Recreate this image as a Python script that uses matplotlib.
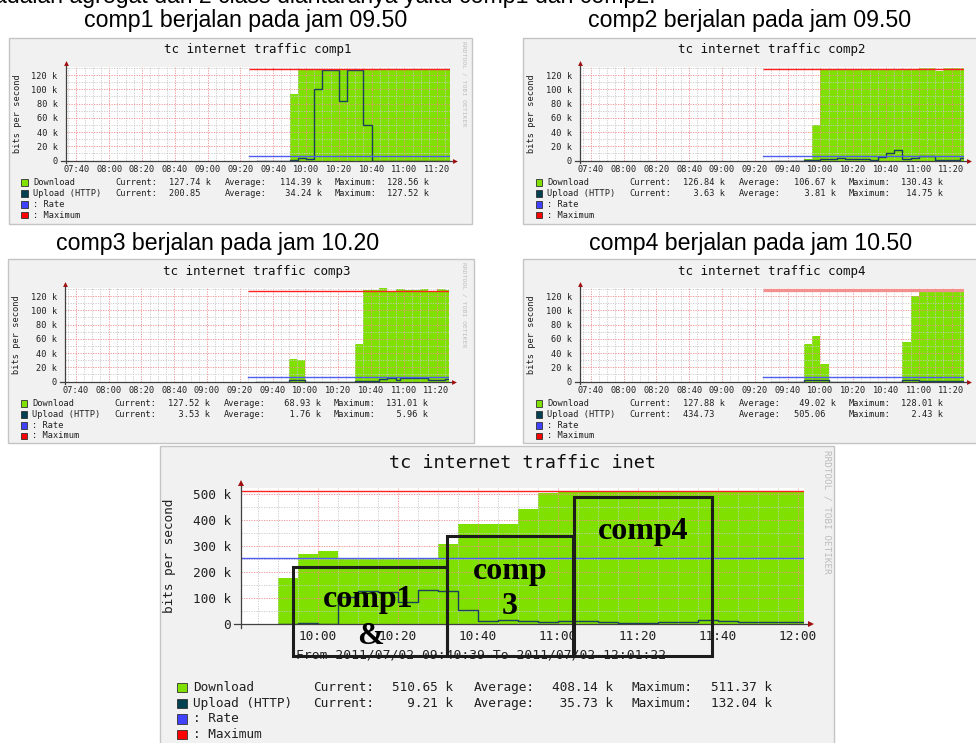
import matplotlib
matplotlib.use("Agg")
import matplotlib.pyplot as plt
from matplotlib.patches import Rectangle

plt.rcParams["font.family"] = ["DejaVu Sans Mono"]

W, H = 976, 743

# ---- tick labels / legend text ----
small_xticks = ["07:40", "08:00", "08:20", "08:40", "09:00", "09:20", "09:40",
                "10:00", "10:20", "10:40", "11:00", "11:20"]
small_yticks = [0, 20, 40, 60, 80, 100, 120]
inet_xticks = ["10:00", "10:20", "10:40", "11:00", "11:20", "11:40", "12:00"]
inet_yticks = [0, 100, 200, 300, 400, 500]

legend_names = ["Download", "Upload (HTTP)", ": Rate", ": Maximum"]
stat_names = ["Current:", "Average:", "Maximum:"]

captions = ["comp1 berjalan pada jam 09.50", "comp2 berjalan pada jam 09.50",
            "comp3 berjalan pada jam 10.20", "comp4 berjalan pada jam 10.50"]

# ---- data: step edges (HH:MM) and values per step (k bit/s) ----
c1_dl_t = ["09:50", "09:55", "10:00", "10:05", "10:10", "10:15", "10:20", "10:25",
           "10:30", "10:35", "10:40", "10:45", "10:50", "10:55", "11:00", "11:05",
           "11:10", "11:15", "11:20", "11:25", "11:27.5"]
c1_dl_v = [93, 128.6, 127.7, 127.7, 128.6, 127.7, 128.6, 127.7, 127.7, 128.6,
           127.7, 128.6, 127.7, 127.7, 127.7, 127.7, 128.6, 127.7, 128.6, 127.7]
c1_up_t = ["09:30", "09:50", "09:55", "10:00", "10:05", "10:10", "10:20", "10:25",
           "10:30", "10:35", "10:40", "11:27.5"]
c1_up_v = [0, 1, 3, 2, 101, 127.5, 83, 127.5, 127.5, 50, 0]
c1_stats = [["127.74 k", "114.39 k", "128.56 k"], ["200.85", "34.24 k", "127.52 k"]]

c2_dl_t = ["09:50", "09:55", "10:00", "10:10", "10:40", "10:45", "10:55", "11:00",
           "11:10", "11:15", "11:27.5"]
c2_dl_v = [2.5, 50, 126.5, 128.5, 127, 128.5, 127, 130.4, 125.5, 129.5]
c2_up_t = ["09:30", "09:50", "10:00", "10:10", "10:15", "10:20", "10:30", "10:35",
           "10:40", "10:45", "10:50", "10:55", "11:00", "11:10", "11:25", "11:27.5"]
c2_up_v = [0, 0.5, 2.8, 4.2, 2.4, 2.8, 1.0, 5.2, 10.0, 14.7, 2.8, 4.2, 6.0, 1.4, 3.3]
c2_stats = [["126.84 k", "106.67 k", "130.43 k"], ["3.63 k", "3.81 k", "14.75 k"]]

c3_dl_t = ["09:50", "09:55", "10:00", "10:30", "10:35", "10:45", "10:50", "10:55",
           "11:00", "11:10", "11:15", "11:20", "11:25", "11:27.5"]
c3_dl_v = [31.5, 29.5, 0, 53, 128, 131, 126, 130, 128, 130, 125, 129.5, 128]
c3_up_t = ["09:30", "09:50", "10:00", "10:30", "10:45", "10:50", "10:55", "10:58",
           "11:15", "11:25", "11:27.5"]
c3_up_v = [0, 2, 0, 0.5, 3, 5, 2, 5, 2, 3.5]
c3_stats = [["127.52 k", "68.93 k", "131.01 k"], ["3.53 k", "1.76 k", "5.96 k"]]

c4_dl_t = ["09:50", "09:55", "10:00", "10:05", "10:50", "10:55", "11:00", "11:27.5"]
c4_dl_v = [52, 64, 25, 0, 55, 120, 128]
c4_up_t = ["09:30", "09:50", "10:05", "10:50", "11:00", "11:27.5"]
c4_up_v = [0, 1.8, 0, 1.8, 0.3]
c4_stats = [["127.88 k", "49.02 k", "128.01 k"], ["434.73", "505.06", "2.43 k"]]

small_rate = [7, 7, 7, 7]
small_max = [127.8, 128.5, 127.6, 128.5]
small_ref_t = ["09:25", "11:27.5"]

inet_dl_t = ["09:50", "09:55", "10:00", "10:05", "10:30", "10:35", "10:50", "10:55",
             "11:00", "12:01.4"]
inet_dl_v = [179, 270, 281, 255, 308, 385, 441, 503, 510.5]
inet_up_t = ["09:50", "09:55", "10:00", "10:05", "10:10", "10:15", "10:20", "10:25",
             "10:30", "10:35", "10:40", "10:45", "10:50", "10:55", "11:00", "11:10",
             "11:15", "11:25", "11:35", "11:40", "11:45", "11:55", "12:01.4"]
inet_up_v = [2.6, 5, 2.6, 105, 129, 125, 87, 132, 128, 55, 12, 18, 14, 10, 13, 10,
             4, 8, 18, 13, 9, 10]
inet_stats = [["510.65 k", "408.14 k", "511.37 k"], ["9.21 k", "35.73 k", "132.04 k"]]
inet_rate = 256
inet_max = 511
inet_ref_t = ["09:40.65", "12:01.4"]

# hand-drawn annotation boxes on the inet graph
box_x0 = ["09:53.8", "10:32.25", "11:04"]
box_x1 = ["10:32.25", "11:03.75", "11:38.6"]
box_top = [220, 338, 487]
box_bottom = -122
box_texts = ["comp1", "&", "comp", "3", "comp4"]
box_text_t = ["10:12.5", "10:13", "10:48", "10:48", "11:21.25"]
box_text_y = [97, -45, 204, 70, 358]

# ---- colours ----
GREEN = "#80e000"
UP_LINE = "#1b4060"
RATE_BLUE = "#4f5cf0"
MAX_RED = "#ff2020"
AXIS_C = "#404040"
ARROW_C = "#a01010"
GRID_MINOR = "#c8c8c8"
GRID_MAJOR = "#f08a8a"
PANEL_BG = "#f1f1f1"
PANEL_EDGE = "#c4c4c4"
LEG_COLORS = [GREEN, "#004050", "#4040ff", "#ff0000"]

fig = plt.figure(figsize=(W / 100, H / 100), dpi=100)
fig.patch.set_facecolor("white")


def tm(s):
    h, m = s.split(":")
    return int(h) * 60 + float(m)


def fig_rect(x0, y0, x1, y1):
    return [x0 / W, 1 - y1 / H, (x1 - x0) / W, (y1 - y0) / H]


def ftext(x, y, s, **kw):
    return fig.text(x / W, 1 - y / H, s, **kw)


def fig_box(x0, y0, x1, y1, fc, ec, lw=1.0, zorder=-1):
    fig.patches.append(Rectangle((x0 / W, 1 - y1 / H), (x1 - x0) / W, (y1 - y0) / H,
                                 transform=fig.transFigure, facecolor=fc,
                                 edgecolor=ec, lw=lw, zorder=zorder))


SMALL = dict(plot=(56.5, 28.5, 440.5, 122.5), title_y=12, fs_title=9, fs=6.2,
             ylab_x=8.7, wm_x=455.5, wm_y=46, wm_fs=4.6, xpad=3.2, ypad=5.6,
             rows=(144.5, 155.5, 166.5, 177), cols=(15.5, 24, 106, 160, 216, 270.5, 325.5, 378),
             sq=6.5, arrow=3.5)
INET = dict(plot=(80.7, 42, 643.5, 178.3), title_y=17.3, fs_title=13.3, fs=9.2,
            ylab_x=10, wm_x=666.7, wm_y=65.5, wm_fs=6.7, xpad=3.8, ypad=7.0,
            rows=(241.7, 257.3, 273, 288.3), cols=(22, 33, 153, 232, 314, 392.3, 472, 551.3),
            sq=9.5, arrow=5)


def draw_rrd(box, lay, title, xlim, ylim, xlabels, yvals, minor_x, minor_y,
             dl_t, dl_v, up_t, up_v, ref_t, rate, vmax, stats,
             max_color=MAX_RED, max_lw=1.0, watermark=True):
    x0, y0, x1, y1 = box
    fig_box(x0, y0, x1, y1, PANEL_BG, PANEL_EDGE)
    pl, pt, pr, pb = lay["plot"]
    ax = fig.add_axes(fig_rect(x0 + pl, y0 + pt, x0 + pr, y0 + pb))
    ax.set_facecolor("white")
    ax.set_xlim(tm(xlim[0]), tm(xlim[1]))
    ax.set_ylim(*ylim)
    for sp in ax.spines.values():
        sp.set_visible(False)

    ax.set_xticks([tm(s) for s in xlabels], xlabels)
    ax.set_yticks(yvals, ["0" if v == 0 else f"{v} k" for v in yvals])
    ax.set_xticks(minor_x, minor=True)
    ax.set_yticks(minor_y, minor=True)
    ax.tick_params(which="both", length=0, labelsize=lay["fs"], colors="#202020")
    ax.tick_params(axis="x", pad=lay["xpad"])
    ax.tick_params(axis="y", pad=lay["ypad"])
    ax.grid(which="minor", color=GRID_MINOR, ls=(0, (1.5, 1.5)), lw=0.6)
    ax.grid(which="major", color=GRID_MAJOR, ls=(0, (1.5, 1.5)), lw=0.6)

    dt = [tm(s) for s in dl_t]
    ax.fill_between(dt, dl_v + dl_v[-1:], step="post", color=GREEN, lw=0, zorder=1)
    ut = [tm(s) for s in up_t]
    ax.step(ut, up_v + up_v[-1:], where="post", color=UP_LINE, lw=1, zorder=3)
    rt = [tm(s) for s in ref_t]
    ax.plot(rt, [rate, rate], color=RATE_BLUE, lw=1, zorder=3)
    ax.plot(rt, [vmax, vmax], color=max_color, lw=max_lw, zorder=3, solid_capstyle="butt")

    # axes with arrow heads like rrdtool
    ax.plot([-0.012, 1.012], [0, 0], transform=ax.transAxes, color=AXIS_C, lw=0.9,
            clip_on=False, zorder=4)
    ax.plot([0, 0], [-0.03, 1.03], transform=ax.transAxes, color=AXIS_C, lw=0.9,
            clip_on=False, zorder=4)
    ax.plot([1.014], [0], marker=">", ms=lay["arrow"], color=ARROW_C, mew=0,
            transform=ax.transAxes, clip_on=False, zorder=5)
    ax.plot([0], [1.035], marker="^", ms=lay["arrow"], color=ARROW_C, mew=0,
            transform=ax.transAxes, clip_on=False, zorder=5)

    ftext(x0 + (pl + pr) / 2, y0 + lay["title_y"], title, ha="center", va="center",
          fontsize=lay["fs_title"], color="#101010")
    ftext(x0 + lay["ylab_x"], y0 + (pt + pb) / 2, "bits per second", rotation=90,
          ha="center", va="center", fontsize=lay["fs"], color="#202020")
    if watermark:
        ftext(x0 + lay["wm_x"], y0 + lay["wm_y"], "RRDTOOL / TOBI OETIKER", rotation=-90,
              ha="center", va="center", fontsize=lay["wm_fs"], color="#bdbdbd")

    # legend block
    c = lay["cols"]
    s = lay["sq"]
    for i, name in enumerate(legend_names):
        y = y0 + lay["rows"][i]
        fig_box(x0 + c[0] - s / 2, y - s / 2, x0 + c[0] + s / 2, y + s / 2,
                LEG_COLORS[i], "#303030", lw=0.6, zorder=2)
        ftext(x0 + c[1], y, name, ha="left", va="center", fontsize=lay["fs"], color="#202020")
        if i < 2:
            for j in range(3):
                num, _, unit = stats[i][j].partition(" ")
                field = num.rjust(6) + " " + unit
                ftext(x0 + c[2 + 2 * j], y, stat_names[j], ha="left", va="center",
                      fontsize=lay["fs"], color="#202020")
                ftext(x0 + c[3 + 2 * j], y, field, ha="left", va="center",
                      fontsize=lay["fs"], color="#202020")
    return ax


small_minor_x = list(range(int(tm("07:35")), int(tm("11:30")), 5))
small_minor_y = list(range(0, 131, 10))
small_xlim = ("07:33.3", "11:27.5")
small_ylim = (0, 132)

panels = [
    ((9, 38, 472, 223.5), "tc internet traffic comp1", c1_dl_t, c1_dl_v, c1_up_t, c1_up_v, c1_stats, True),
    ((523.3, 38, 990, 223.5), "tc internet traffic comp2", c2_dl_t, c2_dl_v, c2_up_t, c2_up_v, c2_stats, False),
    ((8.3, 259, 474.3, 443.3), "tc internet traffic comp3", c3_dl_t, c3_dl_v, c3_up_t, c3_up_v, c3_stats, True),
    ((523.3, 259, 990, 443.3), "tc internet traffic comp4", c4_dl_t, c4_dl_v, c4_up_t, c4_up_v, c4_stats, False),
]
for k, (box, title, dlt, dlv, upt, upv, st, wm) in enumerate(panels):
    if k == 3:
        mc, mlw = "#f29090", 2.4
    else:
        mc, mlw = MAX_RED, 1.0
    draw_rrd(box, SMALL, title, small_xlim, small_ylim, small_xticks, small_yticks,
             small_minor_x, small_minor_y, dlt, dlv, upt, upv, small_ref_t,
             small_rate[k], small_max[k], st, max_color=mc, max_lw=mlw, watermark=wm)

# ---- aggregate graph ----
inet_minor_x = list(range(int(tm("09:45")), int(tm("12:05")), 5))
inet_minor_y = list(range(0, 521, 50))
ax_i = draw_rrd((160, 446, 834, 760), INET, "tc internet traffic inet",
                ("09:40.65", "12:01.4"), (0, 523), inet_xticks, inet_yticks,
                inet_minor_x, inet_minor_y, inet_dl_t, inet_dl_v, inet_up_t, inet_up_v,
                inet_ref_t, inet_rate, inet_max, inet_stats)

ax_i.text(481 / W, 1 - 655.5 / H, "From 2011/07/02 09:40:39 To 2011/07/02 12:01:22",
          transform=fig.transFigure, ha="center", va="center", fontsize=9.4,
          color="#202020", zorder=1)

for a, b, top in zip(box_x0, box_x1, box_top):
    ax_i.add_patch(Rectangle((tm(a), box_bottom), tm(b) - tm(a), top - box_bottom,
                             fill=False, ec="#1c1c1c", lw=2.2, clip_on=False, zorder=6))
for s, t, y in zip(box_texts, box_text_t, box_text_y):
    ax_i.text(tm(t), y, s, family=["Liberation Serif"], weight="bold", fontsize=23,
              ha="center", va="center", color="black", clip_on=False, zorder=7)

# ---- captions ----
cap_pos = [(245.5, 21), (750, 21), (218, 243), (751, 243)]
for s, (x, y) in zip(captions, cap_pos):
    ftext(x, y, s, family=["Liberation Sans"], fontsize=16.7, ha="center", va="center",
          color="black")
ftext(656, 3.5, "adalah agregat dari 2 class diantaranya yaitu comp1 dan comp2.",
      family=["Liberation Sans"], fontsize=16.7, ha="right", va="baseline", color="black")

fig.savefig("out.png", dpi=100)
plt.close(fig)
